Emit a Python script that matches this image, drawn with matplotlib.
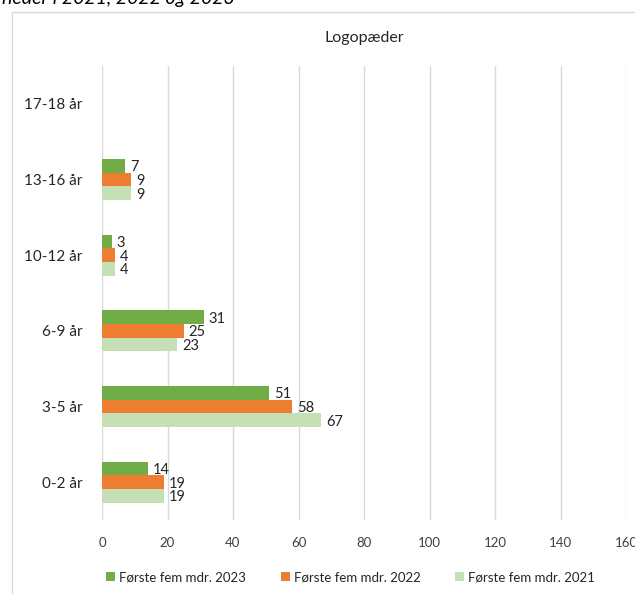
import numpy as np
import matplotlib
matplotlib.use("Agg")
import matplotlib.pyplot as plt
from matplotlib.patches import Rectangle

plt.rcParams['font.family'] = ['Lato', 'DejaVu Sans']

categories = ['0-2 år', '3-5 år', '6-9 år', '10-12 år', '13-16 år', '17-18 år']
series_names = ['Første fem mdr. 2023', 'Første fem mdr. 2022', 'Første fem mdr. 2021']
v2023 = [14, 51, 31, 3, 7, 0]
v2022 = [19, 58, 25, 4, 9, 0]
v2021 = [19, 67, 23, 4, 9, 0]
colors = ['#70AD47', '#ED7D31', '#C5E0B4']
xticks = [0, 20, 40, 60, 80, 100, 120, 140, 160]

fig = plt.figure(figsize=(6.35, 5.94), dpi=100)

# chart border (cut off at right/bottom like the screenshot)
fig.patches.append(Rectangle((12 / 635, -0.1), 1.0, 1 - 12 / 594 + 0.1,
                             transform=fig.transFigure, fill=False,
                             edgecolor='#D9D9D9', linewidth=1.0))

fig.text(0.003, 1 - 4 / 594, 'neder i 2021, 2022 og 2023', fontsize=14,
         style='italic', va='baseline', ha='left', color='#000000')

ax = fig.add_axes([102 / 635, 1 - 520 / 594, 524 / 635, 454 / 594])

y = np.arange(len(categories))
h = 0.18
offsets = [h, 0, -h]
for vals, off, col, name in zip([v2023, v2022, v2021], offsets, colors, series_names):
    bars = ax.barh(y + off, vals, height=h, color=col, label=name, zorder=3)
    for b, v in zip(bars, vals):
        if v == 0:
            continue
        ax.text(b.get_width() + 1.5, b.get_y() + b.get_height() / 2 - 0.02, str(v),
                va='center', ha='left', fontsize=10.5, color='#262626')

ax.set_xlim(0, 160)
ax.set_ylim(-0.5, len(categories) - 0.5)
ax.set_xticks(xticks)
ax.set_yticks(y)
ax.set_yticklabels(categories, fontsize=11, color='#262626')
ax.tick_params(axis='x', labelsize=9.5, colors='#404040', length=0, pad=12)
ax.tick_params(axis='y', length=0, pad=14)
ax.grid(axis='x', color='#D9D9D9', linewidth=1.0, zorder=0)
for s in ax.spines.values():
    s.set_visible(False)

ax.set_title('Logopæder', fontsize=11.5, color='#262626', pad=17)

fig.legend(loc='center', bbox_to_anchor=(0.552, 1 - 577 / 594), ncol=3, frameon=False,
           fontsize=9.5, handlelength=0.7, handleheight=0.7, handletextpad=0.3,
           columnspacing=2.6, labelcolor='#262626')

fig.savefig('out.png', dpi=100)
